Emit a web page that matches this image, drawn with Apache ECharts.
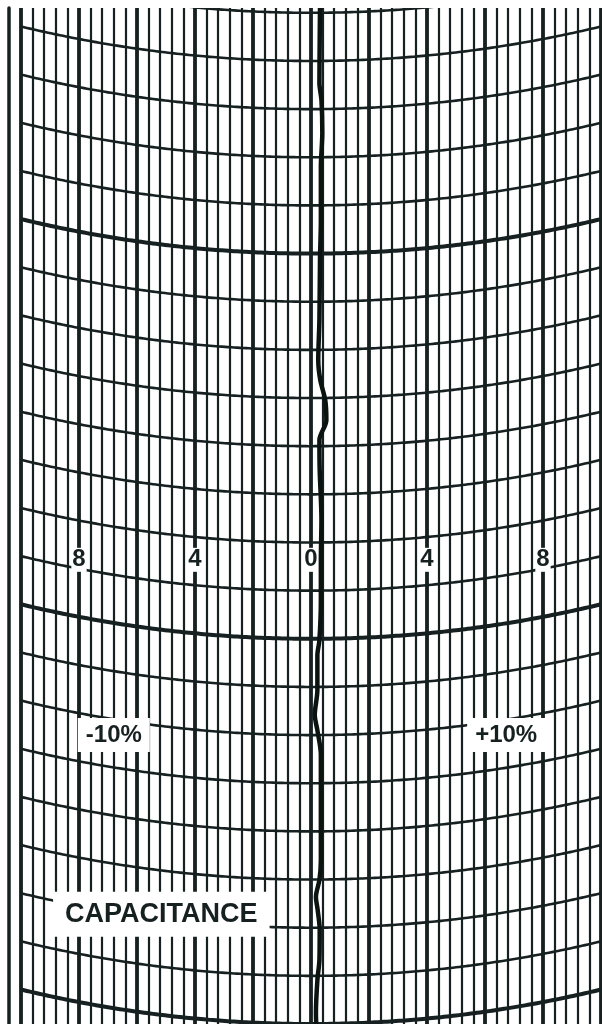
<!DOCTYPE html>
<html>
<head>
<meta charset="utf-8">
<script src="https://cdn.jsdelivr.net/npm/echarts@6/dist/echarts.min.js"></script>
<style>
  html, body { margin: 0; padding: 0; background: #fff; }
  #chart { width: 602px; height: 1024px; }
</style>
</head>
<body>
<div id="chart"></div>
<script>
// x = deviation scale units, y = chart-paper time divisions (top = 0)
const scaleTicks = [-8, -4, 0, 4, 8];
const scaleLabels = ["8", "4", "0", "4", "8"];
const scaleRow = 11.36;

const timeLines = [0, 1, 2, 3, 4, 5, 6, 7, 8, 9, 10, 11, 12, 13, 14, 15, 16, 17, 18, 19, 20, 21];
const boldTimeLines = [5, 13, 21];

// pen trace
const traceY = [-0.1, 0.56, 1.46, 1.81, 2.49, 3.2, 4.3, 5.13, 6.38, 7.21, 7.63, 8.04, 8.46, 8.87, 9.5,
  10.53, 11.36, 12.2, 13.03, 13.34, 14.07, 14.58, 14.9, 15.41, 16.35, 17.6, 18.01, 18.36, 18.63,
  19.05, 19.67, 20.09, 20.77, 21.0];
const traceX = [0.31, 0.3, 0.29, 0.36, 0.39, 0.34, 0.34, 0.31, 0.29, 0.25, 0.32, 0.49, 0.53, 0.29, 0.3,
  0.36, 0.34, 0.34, 0.29, 0.22, 0.22, 0.13, 0.22, 0.34, 0.34, 0.34, 0.29, 0.17, 0.23,
  0.3, 0.29, 0.22, 0.17, 0.18];

const noteText = ["-10%", "+10%", "CAPACITANCE"];
const noteX = [-6.8, 6.73, -5.16];
const noteY = [15.0, 15.0, 18.72];

const penArmRadius = 42.65; // in x units
const ink = "#172020";

const chart = echarts.init(document.getElementById("chart"));

const labelSeries = (name, data, label) => ({
  type: "scatter",
  name: name,
  z: 3,
  symbolSize: 0,
  silent: true,
  itemStyle: { color: "#fff", opacity: 1 },
  data: data,
  label: Object.assign({
    show: true, position: "inside", opacity: 1,
    formatter: p => p.value[2],
    fontWeight: "bold", color: ink,
    backgroundColor: "#fff"
  }, label)
});

const option = {
  backgroundColor: "#ffffff",
  animation: false,
  grid: { left: 21, right: 1, top: 8, bottom: 0 },
  xAxis: [
    {
      type: "value", min: -10, max: 10, interval: 0.4,
      axisLine: { show: false }, axisTick: { show: false }, axisLabel: { show: false },
      splitLine: { show: true, lineStyle: { color: ink, width: 2.2 } }
    },
    {
      type: "value", min: -10, max: 10, interval: 2,
      axisLine: { show: false }, axisTick: { show: false }, axisLabel: { show: false },
      splitLine: { show: true, lineStyle: { color: ink, width: 3.8 } }
    }
  ],
  yAxis: {
    type: "value", inverse: true, min: -0.1, max: 21, offset: 12,
    axisLine: { show: true, onZero: false, lineStyle: { color: ink, width: 3.5 } },
    axisTick: { show: false }, axisLabel: { show: false }, splitLine: { show: false }
  },
  series: [
    {
      type: "custom",
      name: "time lines",
      clip: true,
      silent: true,
      z: 1,
      data: timeLines.map(k => [0, k, boldTimeLines.includes(k) ? 1 : 0]),
      renderItem: function (params, api) {
        const k = api.value(1);
        const c = api.coord([0, k]);
        const R = penArmRadius * api.size([1, 0])[0];
        const cs = params.coordSys;
        const pts = [];
        for (let px = cs.x; px <= cs.x + cs.width + 3; px += 3) {
          const dx = px - c[0];
          pts.push([px, c[1] - (R - Math.sqrt(R * R - dx * dx))]);
        }
        return {
          type: "polyline",
          shape: { points: pts },
          style: { stroke: ink, fill: null, lineWidth: api.value(2) ? 4 : 2.6 }
        };
      }
    },
    labelSeries("scale", scaleTicks.map((x, i) => [x, scaleRow, scaleLabels[i]]), {
      fontFamily: "'Liberation Sans Narrow', 'Liberation Sans', sans-serif",
      fontSize: 24, padding: [0, 1]
    }),
    labelSeries("notes", noteText.map((t, i) => ({
      value: [noteX[i], noteY[i], t],
      label: i === 2 ? { fontSize: 27, padding: [9, 12] } : { fontSize: 24, padding: [5, 8] }
    })), {
      fontFamily: "'Liberation Sans', Arial, sans-serif"
    }),
    {
      type: "line",
      name: "capacitance",
      z: 5,
      smooth: 0.3,
      silent: true,
      showSymbol: false,
      data: traceX.map((x, i) => [x, traceY[i]]),
      lineStyle: { color: "#0b1311", width: 4.5 }
    }
  ]
};

chart.setOption(option);
</script>
</body>
</html>
